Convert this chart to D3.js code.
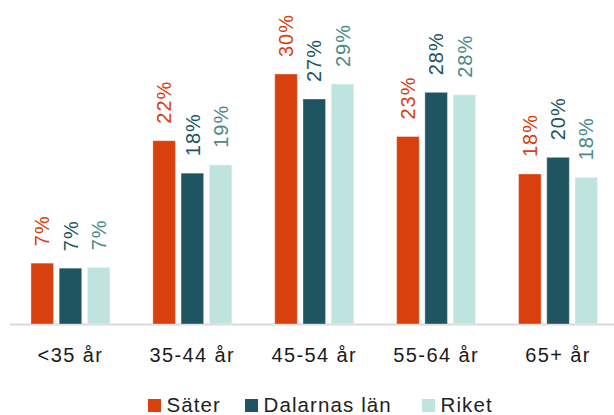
<!DOCTYPE html>
<html>
<head>
<meta charset="utf-8">
<script src="https://cdn.jsdelivr.net/npm/d3@7"></script>
<style>
  body { margin: 0; background: #fff; }
  svg { display: block; font-family: "Liberation Sans", Arial, sans-serif; }
</style>
</head>
<body>
<svg width="614" height="415"></svg>
<script>
// categories and series (percent)
var categories = ["<35 år", "35-44 år", "45-54 år", "55-64 år", "65+ år"];
var seriesNames = ["Säter", "Dalarnas län", "Riket"];
var sater    = [7.3, 22.0, 30.0, 22.5, 18.0];
var dalarna  = [6.7, 18.1, 27.0, 27.8, 20.0];
var riket    = [6.8, 19.1, 28.8, 27.5, 17.6];

var fills = ["#d8400e", "#1f5560", "#bfe4df"];
var labelCols = ["#d8400e", "#1f5560", "#4a8a8a"];

var svg = d3.select("svg");
var baseY = 324;

var x0 = d3.scaleBand().domain(categories).range([9.5, 619]).paddingInner(0).paddingOuter(0);
var x1 = d3.scaleBand().domain(seriesNames).range([0, x0.bandwidth()]).paddingInner(0.2).paddingOuter(0.76);
var y = d3.scaleLinear().domain([0, 30]).range([baseY, 74]);

var data = [sater, dalarna, riket];

// baseline
svg.append("line")
  .attr("x1", 10).attr("x2", 614)
  .attr("y1", baseY + 0.5).attr("y2", baseY + 0.5)
  .attr("stroke", "#d9d9d9").attr("stroke-width", 2);

var groups = svg.selectAll("g.grp")
  .data(categories)
  .enter().append("g")
  .attr("class", "grp")
  .attr("transform", function(d) { return "translate(" + x0(d) + ",0)"; });

groups.each(function(cat, ci) {
  var g = d3.select(this);
  seriesNames.forEach(function(s, si) {
    var v = data[si][ci];
    g.append("rect")
      .attr("x", x1(s))
      .attr("y", y(v))
      .attr("width", x1.bandwidth())
      .attr("height", baseY - y(v))
      .attr("fill", fills[si])
      .attr("stroke", "#fff")
      .attr("stroke-opacity", 0.35)
      .attr("stroke-width", 1);
    var cx = x1(s) + x1.bandwidth() / 2;
    g.append("text")
      .attr("transform", "translate(" + cx + "," + (y(v) - 17) + ") rotate(-90)")
      .attr("dy", "0.36em")
      .attr("font-size", 20)
      .attr("letter-spacing", 1)
      .attr("fill", labelCols[si])
      .text(Math.round(v) + "%");
  });
});

// category labels
svg.selectAll("text.cat")
  .data(categories)
  .enter().append("text")
  .attr("class", "cat")
  .attr("x", function(d) { return x0(d) + x0.bandwidth() / 2; })
  .attr("y", 362)
  .attr("text-anchor", "middle")
  .attr("font-size", 20)
  .attr("letter-spacing", 1.4)
  .attr("fill", "#1a1a1a")
  .text(function(d) { return d; });

// legend
var legendX = [148, 245, 422];
var leg = svg.selectAll("g.leg")
  .data(seriesNames)
  .enter().append("g")
  .attr("class", "leg")
  .attr("transform", function(d, i) { return "translate(" + legendX[i] + ",399)"; });
leg.append("rect")
  .attr("width", 13).attr("height", 13)
  .attr("fill", function(d, i) { return fills[i]; });
leg.append("text")
  .attr("x", 18.5).attr("y", 13)
  .attr("font-size", 20.5)
  .attr("letter-spacing", 1.1)
  .attr("fill", "#222")
  .text(function(d) { return d; });
</script>
</body>
</html>
